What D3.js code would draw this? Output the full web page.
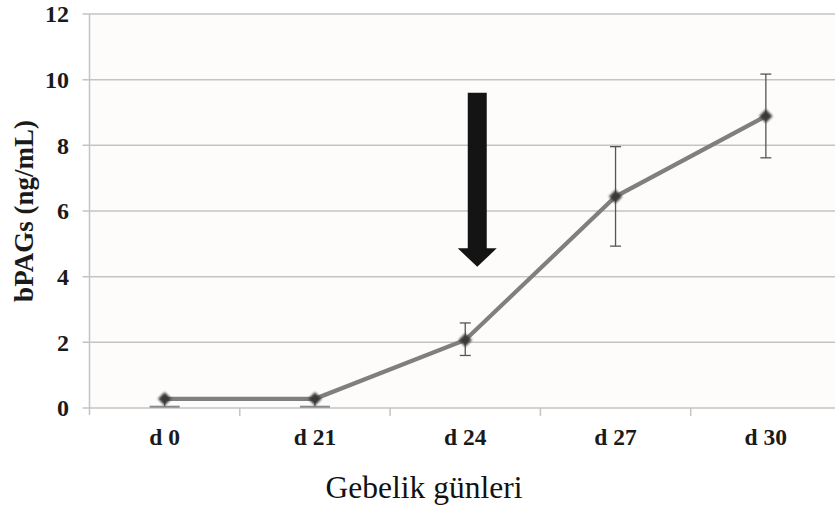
<!DOCTYPE html>
<html>
<head>
<meta charset="utf-8">
<script src="https://cdn.jsdelivr.net/npm/d3@7/dist/d3.min.js"></script>
<style>
  html, body { margin: 0; padding: 0; background: #ffffff; }
  svg { display: block; }
</style>
</head>
<body>
<svg id="chart" width="835" height="511"></svg>
<script>
// Gestation days and mean bPAG concentration (ng/mL)
const categories = ["d 0", "d 21", "d 24", "d 27", "d 30"];
const meanValues = [0.28, 0.28, 2.07, 6.44, 8.89];
const lowerBounds = [0.04, 0.04, 1.6, 4.93, 7.62];
const upperBounds = [0.28, 0.28, 2.59, 7.96, 10.17];
const yTicks = [0, 2, 4, 6, 8, 10, 12];
const arrowCategory = "d 24";
const arrowRange = [9.6, 4.3]; // shaft top to arrow tip, in ng/mL

const svg = d3.select("#chart");
const margin = { left: 89.5, top: 14, right: -6, bottom: 103 };
const W = 835, H = 511;
const x0 = margin.left, x1 = W - margin.right;
const y0 = H - margin.bottom, y1 = margin.top;
const serif = "'Liberation Serif', 'Times New Roman', serif";

const x = d3.scaleBand().domain(categories).range([x0, x1]);
const y = d3.scaleLinear().domain([0, 12]).range([y0, y1]);
const cx = d => x(d) + x.bandwidth() / 2;

// plot background
svg.append("rect").attr("x", x0).attr("y", y1).attr("width", x1 - x0).attr("height", y0 - y1)
  .attr("fill", "#fdfcfa");

// gridlines
svg.append("g").selectAll("line").data(yTicks).join("line")
  .attr("x1", x0 - 7).attr("x2", x1)
  .attr("y1", d => y(d)).attr("y2", d => y(d))
  .attr("stroke", "#c4c4c4").attr("stroke-width", 1.5);

// y axis line
svg.append("line").attr("x1", x0).attr("x2", x0).attr("y1", y1).attr("y2", y0 + 7)
  .attr("stroke", "#c4c4c4").attr("stroke-width", 1.5);

// x category separators
svg.append("g").selectAll("line").data(categories.slice(1)).join("line")
  .attr("x1", d => x(d)).attr("x2", d => x(d)).attr("y1", y0).attr("y2", y0 + 8)
  .attr("stroke", "#c4c4c4").attr("stroke-width", 1.5);

// y tick labels
svg.append("g").selectAll("text").data(yTicks).join("text")
  .attr("x", 69).attr("y", d => y(d)).attr("dy", "0.35em")
  .attr("text-anchor", "end")
  .style("font-family", serif)
  .style("font-weight", "bold").style("font-size", "24px").attr("fill", "#1a1a1a")
  .text(d => d);

// x tick labels
svg.append("g").selectAll("text").data(categories).join("text")
  .attr("x", d => cx(d)).attr("y", 445)
  .attr("text-anchor", "middle")
  .style("font-family", serif)
  .style("font-weight", "bold").style("font-size", "23.5px").attr("fill", "#1a1a1a")
  .text(d => d);

// axis titles
svg.append("text")
  .attr("transform", `translate(33, ${(y0 + y1) / 2}) rotate(-90)`)
  .attr("text-anchor", "middle")
  .style("font-family", serif)
  .style("font-weight", "bold").style("font-size", "27px").attr("fill", "#1a1a1a")
  .text("bPAGs (ng/mL)");

svg.append("text")
  .attr("x", 424).attr("y", 498)
  .attr("text-anchor", "middle")
  .style("font-family", serif)
  .style("font-size", "31.5px").attr("fill", "#111")
  .text("Gebelik günleri");

// arrow marking day 24
const ax = cx(arrowCategory) + 12;
const aTop = y(arrowRange[0]), aTip = y(arrowRange[1]);
const shaftHalf = 9.5, headHalf = 19.5, headLen = 18.5;
svg.append("path")
  .attr("d", `M${ax - shaftHalf},${aTop} L${ax + shaftHalf},${aTop} L${ax + shaftHalf},${aTip - headLen}
    L${ax + headHalf},${aTip - headLen} L${ax},${aTip} L${ax - headHalf},${aTip - headLen}
    L${ax - shaftHalf},${aTip - headLen} Z`)
  .attr("fill", "#141414");

const defs = svg.append("defs");
defs.append("filter").attr("id", "soft").attr("x", "-50%").attr("y", "-50%").attr("width", "200%").attr("height", "200%")
  .append("feGaussianBlur").attr("stdDeviation", 1.1);
defs.append("filter").attr("id", "softLine")
  .append("feGaussianBlur").attr("stdDeviation", 0.5);

// error bars
const eb = svg.append("g").attr("stroke", "#555").attr("stroke-width", 1.3);
categories.forEach((c, i) => {
  const px = cx(c);
  const hasUpper = upperBounds[i] > meanValues[i];
  eb.append("line").attr("x1", px).attr("x2", px)
    .attr("y1", y(upperBounds[i])).attr("y2", y(lowerBounds[i]));
  const lowHalf = hasUpper ? 5.5 : 15;
  eb.append("line").attr("x1", px - lowHalf).attr("x2", px + lowHalf)
    .attr("y1", y(lowerBounds[i])).attr("y2", y(lowerBounds[i]))
    .attr("stroke", hasUpper ? "#555" : "#8a8a8a").attr("stroke-width", hasUpper ? 1.3 : 2);
  if (hasUpper) {
    eb.append("line").attr("x1", px - 5.5).attr("x2", px + 5.5)
      .attr("y1", y(upperBounds[i])).attr("y2", y(upperBounds[i]));
  }
});

// mean line
const line = d3.line().x((d, i) => cx(categories[i])).y(d => y(d));
svg.append("path").datum(meanValues)
  .attr("d", line).attr("fill", "none")
  .attr("stroke", "#7f7f7f").attr("stroke-width", 4.2)
  .attr("filter", "url(#softLine)");

// diamond markers (squares turned 45°)
const diamond = d3.symbol().type(d3.symbolSquare).size(90);
svg.append("g").selectAll("path").data(meanValues).join("path")
  .attr("d", diamond)
  .attr("transform", (d, i) => `translate(${cx(categories[i])},${y(d)}) rotate(45)`)
  .attr("fill", "#383838")
  .attr("filter", "url(#soft)");
</script>
</body>
</html>
